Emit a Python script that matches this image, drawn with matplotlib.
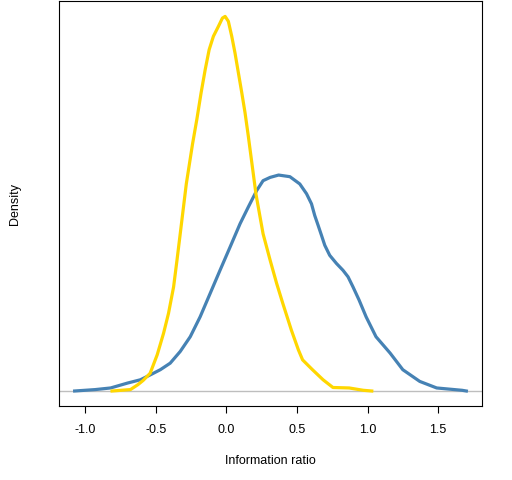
import matplotlib
matplotlib.use('Agg')
import matplotlib.pyplot as plt

# density curves
blue_x = [-1.075, -0.93, -0.82, -0.70, -0.609, -0.539, -0.468, -0.398, -0.327, -0.256, -0.186,
          -0.115, -0.045, 0.026, 0.097, 0.155, 0.215, 0.26, 0.31, 0.37, 0.45, 0.52, 0.568,
          0.603, 0.626, 0.65, 0.674, 0.697, 0.732, 0.78, 0.826, 0.862, 0.897, 0.94, 0.99,
          1.06, 1.16, 1.25, 1.37, 1.49, 1.67, 1.70]
blue_y = [0.0, 0.006, 0.013, 0.034, 0.048, 0.069, 0.091, 0.119, 0.169, 0.232, 0.317,
          0.417, 0.516, 0.615, 0.715, 0.786, 0.857, 0.899, 0.913, 0.923, 0.916, 0.885, 0.843,
          0.800, 0.750, 0.708, 0.665, 0.623, 0.580, 0.545, 0.516, 0.488, 0.445, 0.389, 0.317,
          0.232, 0.162, 0.091, 0.041, 0.013, 0.003, 0.0]

yellow_x = [-0.81, -0.68, -0.627, -0.59, -0.54, -0.49, -0.445, -0.41, -0.374, -0.35, -0.327,
            -0.304, -0.284, -0.24, -0.209, -0.179, -0.150, -0.122, -0.092, -0.056, -0.028,
            -0.009, 0.014, 0.038, 0.061, 0.085, 0.109, 0.132, 0.155, 0.21, 0.26, 0.31, 0.356,
            0.40, 0.46, 0.51, 0.54, 0.61, 0.685, 0.755, 0.87, 0.97, 1.03]
yellow_y = [0.0, 0.006, 0.027, 0.045, 0.076, 0.155, 0.247, 0.332, 0.445, 0.559, 0.672,
            0.786, 0.885, 1.055, 1.162, 1.275, 1.374, 1.459, 1.516, 1.559, 1.594,
            1.601, 1.580, 1.516, 1.445, 1.360, 1.275, 1.190, 1.091, 0.840, 0.672, 0.559, 0.460,
            0.374, 0.261, 0.176, 0.133, 0.091, 0.048, 0.015, 0.013, 0.003, 0.0]

xticks = [-1.0, -0.5, 0.0, 0.5, 1.0, 1.5]

plt.rcParams['font.family'] = ['Liberation Sans', 'DejaVu Sans']

fig = plt.figure(figsize=(5.12, 4.8), dpi=100)
ax = fig.add_axes([0.1152, 0.1542, 0.8262, 0.8428])

ax.axhline(0, color='#bebebe', lw=1.0, zorder=1)
ax.plot(blue_x, blue_y, color='#4682b4', lw=2.3, solid_joinstyle='round')
ax.plot(yellow_x, yellow_y, color='#ffd700', lw=2.3, solid_joinstyle='round')

# R style 4% padding on both axes
lo, hi = min(blue_x), max(blue_x)
pad = 0.04 * (hi - lo)
ax.set_xlim(lo - pad, hi + pad)
ymax = max(yellow_y)
ax.set_ylim(-0.04 * ymax, 1.04 * ymax)

ax.set_xticks(xticks)
ax.set_xticklabels(['%.1f' % t for t in xticks])
ax.set_yticks([])
ax.tick_params(axis='x', length=5, width=0.8, pad=8, labelsize=9)
for s in ax.spines.values():
    s.set_linewidth(0.8)

ax.set_xlabel('Information ratio', fontsize=9, labelpad=14)
ax.set_ylabel('Density', fontsize=9, labelpad=27)

fig.savefig('out.png', dpi=100)
